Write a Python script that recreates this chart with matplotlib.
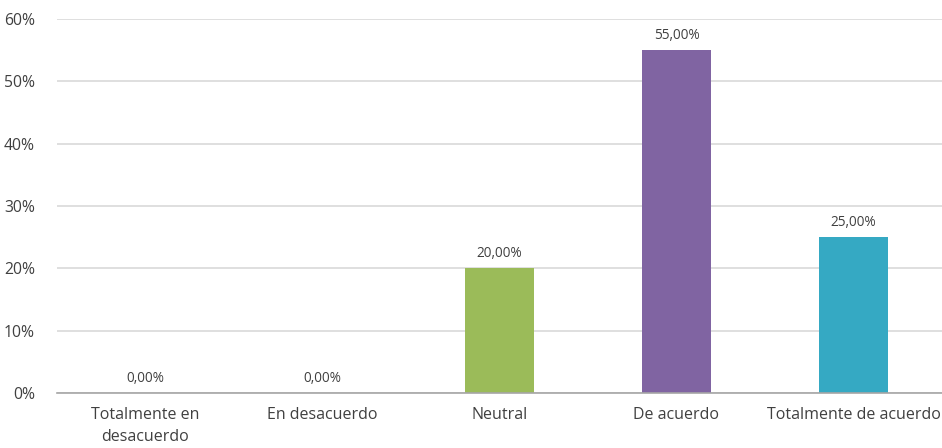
import matplotlib
matplotlib.use("Agg")
import matplotlib.pyplot as plt
import numpy as np

categories = ["Totalmente en\ndesacuerdo", "En desacuerdo", "Neutral", "De acuerdo", "Totalmente de acuerdo"]
values = [0.0, 0.0, 20.0, 55.0, 25.0]
colors = ["#4F81BD", "#C0504D", "#9BBB59", "#8064A2", "#35A9C3"]
yticks = [0, 10, 20, 30, 40, 50, 60]

plt.rcParams["font.family"] = ["Open Sans", "DejaVu Sans"]

fig = plt.figure(figsize=(9.42, 4.48), dpi=100)
ax = fig.add_axes([0.0605, 0.1228, 0.9395, 0.8348])

x = np.arange(len(categories))
ax.bar(x, values, width=0.395, color=colors, zorder=3)

# data labels
for xi, v in zip(x, values):
    ax.annotate("{:.2f}%".format(v).replace(".", ","), (xi, v), xytext=(0, 5),
                textcoords="offset points", ha="center", va="bottom",
                fontsize=9.8, color="#404040")

ax.set_xlim(-0.5, len(categories) - 0.5)
ax.set_ylim(0, 60)
ax.set_yticks(yticks)
ax.set_yticklabels([str(t) + "%" for t in yticks], fontsize=11.3, color="#404040")
ax.set_xticks(x)
ax.set_xticklabels(categories, fontsize=11.5, color="#404040", linespacing=1.5)
ax.tick_params(axis="x", length=0, pad=10)
ax.tick_params(axis="y", length=0, pad=16)

ax.grid(axis="y", color="#D9D9D9", linewidth=1.2, zorder=0)
for side in ["top", "right", "left"]:
    ax.spines[side].set_visible(False)
ax.spines["bottom"].set_color("#A6A6A6")
ax.spines["bottom"].set_linewidth(1.2)
ax.spines["bottom"].set_zorder(4)

fig.savefig("out.png", dpi=100)
